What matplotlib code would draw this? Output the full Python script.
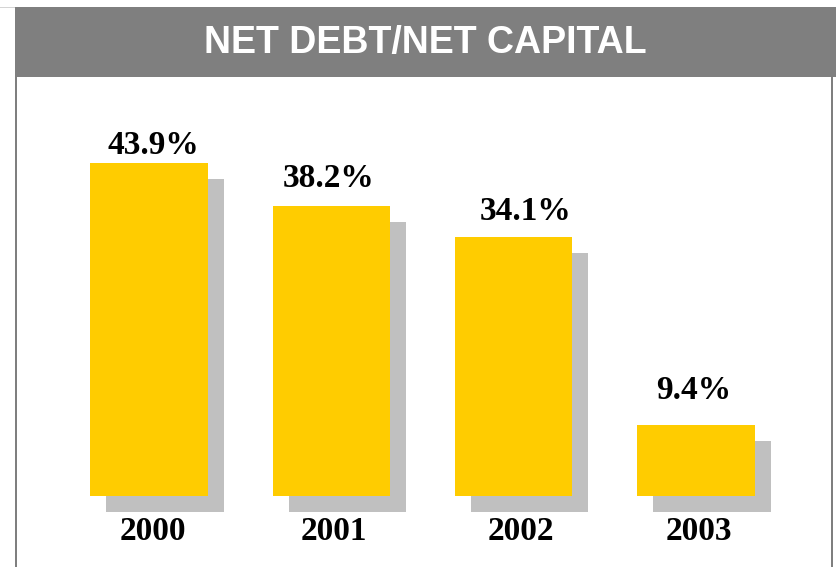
import matplotlib
matplotlib.use("Agg")
import matplotlib.pyplot as plt
from matplotlib.patches import Rectangle

years = ["2000", "2001", "2002", "2003"]
ratios = [43.9, 38.2, 34.1, 9.4]
value_labels = ["43.9%", "38.2%", "34.1%", "9.4%"]

# hand placement of the labels, in pixels
label_nudge_px = [4.5, -3, 11.5, -2]
label_gap_px = [9, 19, 17, 26]
year_nudge_px = [4, 2.5, 7, 3]

W, H = 836, 567
base_px = 71          # baseline height from bottom
px_per_pct = 7.585
slot_px = 182.3
first_center_px = 149
bar_w_px = 117.5
shadow_px = 16

YELLOW = "#FFCC00"
SHADOW = "#C0C0C0"
HEADER = "#7F7F7F"

fig = plt.figure(figsize=(W / 100, H / 100), dpi=100)
fig.patch.set_facecolor("white")

ax = fig.add_axes([0, 0, 1, 1])
ax.set_xlim(-first_center_px / slot_px, (W - first_center_px) / slot_px)
ax.set_ylim(-base_px / px_per_pct, (H - base_px) / px_per_pct)
ax.axis("off")

dx = shadow_px / slot_px
dy = shadow_px / px_per_pct
width = bar_w_px / slot_px
xs = list(range(len(years)))

ax.bar([x + dx for x in xs], ratios, width=width, bottom=-dy,
       color=SHADOW, zorder=1)
ax.bar(xs, ratios, width=width, color=YELLOW, zorder=2)

for x, v, lab, nud, gap in zip(xs, ratios, value_labels, label_nudge_px, label_gap_px):
    ax.text(x + nud / slot_px, v + gap / px_per_pct, lab,
            ha="center", va="baseline", fontsize=24, fontweight="bold",
            family="Liberation Serif", color="black", zorder=3)

year_y = -(540 - (H - base_px)) / px_per_pct
for x, yr, nud in zip(xs, years, year_nudge_px):
    ax.text(x + nud / slot_px, year_y, yr, ha="center", va="baseline",
            fontsize=24, fontweight="bold", family="Liberation Serif",
            color="black", zorder=3)

# header band and frame
def px_rect(x0, y0, x1, y1, color):
    fig.add_artist(Rectangle((x0 / W, 1 - y1 / H), (x1 - x0) / W, (y1 - y0) / H,
                             transform=fig.transFigure, color=color, lw=0))

px_rect(0, 6.5, W, 7.5, "#D4D4D4")
px_rect(15, 7.5, W, 77, HEADER)
px_rect(15, 77, 17, H, HEADER)
px_rect(831, 77, 833, H, HEADER)

fig.text(425 / W, 1 - 43 / H, "NET DEBT/NET CAPITAL", ha="center", va="center",
         fontsize=27, fontweight="bold", family="Liberation Sans", color="white")

fig.savefig("out.png", dpi=100)
